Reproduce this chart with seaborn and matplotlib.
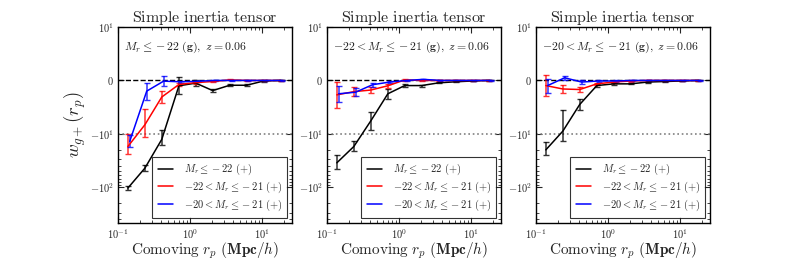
import numpy as np
import pandas as pd
import seaborn as sns
import matplotlib
matplotlib.use("Agg")
import matplotlib.pyplot as plt
from matplotlib.lines import Line2D
from matplotlib.ticker import FixedLocator, FixedFormatter, NullFormatter

# -----------------------------
# Data
# -----------------------------
rp = [0.137, 0.236, 0.405, 0.70, 1.2, 2.06, 3.55, 6.1, 10.5, 18.0]

samples = [r"$M_r \leq -22\ \mathbf{(+)}$",
           r"$-22 < M_r \leq -21\ \mathbf{(+)}$",
           r"$-20 < M_r \leq -21\ \mathbf{(+)}$"]
sample_colors = ["black", "red", "blue"]

panel_notes = [r"$M_r \leq -22\ \mathbf{(g)},\ z = 0.06$",
               r"$-22 < M_r \leq -21\ \mathbf{(g)},\ z = 0.06$",
               r"$-20 < M_r \leq -21\ \mathbf{(g)},\ z = 0.06$"]

# panel 1: M_r <= -22 (g)
w1_black = [-104, -44, -12.7, -1.0, -0.5, -1.9, -0.9, -0.9, -0.1, 0.0]
e1_black = [10, 6, 3.5, 1.6, 0.5, 0.3, 0.2, 0.2, 0.1, 0.05]
w1_red = [-17.3, -8.3, -3.1, -0.76, -0.4, -0.2, 0.1, 0.0, 0.0, 0.0]
e1_red = [7, 3, 1.2, 0.3, 0.2, 0.1, 0.1, 0.05, 0.05, 0.05]
w1_blue = [-13.9, -2.0, -0.13, -0.25, -0.15, 0.0, 0.0, 0.0, 0.0, 0.0]
e1_blue = [3.5, 1.6, 0.9, 0.2, 0.1, 0.1, 0.05, 0.05, 0.05, 0.05]

# panel 2: -22 < M_r <= -21 (g)
w2_black = [-35, -17.3, -7.6, -2.5, -0.96, -0.96, -0.45, -0.25, -0.1, 0.0]
e2_black = [10, 3.5, 1.6, 0.9, 0.3, 0.2, 0.1, 0.1, 0.05, 0.05]
w2_red = [-2.7, -2.1, -1.8, -1.0, 0.1, 0.0, 0.0, 0.0, 0.0, 0.0]
e2_red = [2.4, 0.8, 0.5, 0.4, 0.2, 0.1, 0.05, 0.05, 0.05, 0.05]
w2_blue = [-2.5, -2.2, -0.8, -0.3, 0.0, 0.2, 0.0, 0.0, 0.0, 0.0]
e2_blue = [1.5, 0.7, 0.4, 0.2, 0.1, 0.1, 0.05, 0.05, 0.05, 0.05]

# panel 3: -20 < M_r <= -21 (g)
w3_black = [-20, -9.5, -4.5, -0.96, -0.64, -0.64, -0.3, -0.2, -0.1, 0.0]
e3_black = [5.5, 4, 1.1, 0.3, 0.2, 0.1, 0.1, 0.05, 0.05, 0.05]
w3_red = [-0.96, -1.6, -1.7, -0.64, -0.3, -0.1, 0.0, 0.0, 0.0, 0.0]
e3_red = [1.9, 0.7, 0.4, 0.2, 0.1, 0.1, 0.05, 0.05, 0.05, 0.05]
w3_blue = [-0.96, 0.5, -0.3, -0.1, -0.1, 0.0, 0.0, 0.0, 0.0, 0.0]
e3_blue = [1.3, 0.4, 0.3, 0.1, 0.1, 0.05, 0.05, 0.05, 0.05, 0.05]

panels = [
    [(w1_black, e1_black), (w1_red, e1_red), (w1_blue, e1_blue)],
    [(w2_black, e2_black), (w2_red, e2_red), (w2_blue, e2_blue)],
    [(w3_black, e3_black), (w3_red, e3_red), (w3_blue, e3_blue)],
]

# -----------------------------
# Style
# -----------------------------
sns.set_style("ticks", {"xtick.direction": "in", "ytick.direction": "in"})
plt.rcParams["font.family"] = ["DejaVu Serif"]
plt.rcParams["mathtext.fontset"] = "cm"
plt.rcParams["axes.linewidth"] = 1.0
plt.rcParams["axes.edgecolor"] = "black"
plt.rcParams["xtick.top"] = True
plt.rcParams["ytick.right"] = True

fig = plt.figure(figsize=(7.89, 2.63), dpi=100)
lefts = [0.1496, 0.4144, 0.6793]
x_shift = [1.0, 1.0, 1.06]  # small horizontal offset used for the blue sample

for p, (left, series) in enumerate(zip(lefts, panels)):
    ax = fig.add_axes([left, 0.152, 0.2205, 0.745])

    rows = []
    for s, (w, e) in enumerate(series):
        for x, y in zip(rp, w):
            rows.append({"rp": x * x_shift[s], "w": y, "sample": samples[s]})
    df = pd.DataFrame(rows)

    ax.set_xscale("log")
    ax.set_yscale("symlog", linthresh=10, linscale=0.9, subs=[2, 3, 4, 5, 6, 7, 8, 9])

    ax.axhline(0, color="black", ls="--", lw=1, zorder=1)
    ax.axhline(-10, color="gray", ls=":", lw=1.2, zorder=1)

    sns.lineplot(data=df, x="rp", y="w", hue="sample", palette=sample_colors,
                 hue_order=samples, estimator=None, sort=False, legend=False,
                 lw=1.1, ax=ax, zorder=3)

    for s, (w, e) in enumerate(series):
        ax.errorbar([x * x_shift[s] for x in rp], w, yerr=e, fmt="none",
                    ecolor=sample_colors[s], elinewidth=1.1, capsize=2,
                    capthick=1.0, alpha=0.8, zorder=2)

    ax.set_xlim(0.1, 26)
    ax.set_ylim(-470, 10)

    ax.yaxis.set_major_locator(FixedLocator([10, 0, -10, -100]))
    ax.yaxis.set_major_formatter(FixedFormatter(
        [r"$10^{1}$", r"$0$", r"$-10^{1}$", r"$-10^{2}$"]))
    ax.yaxis.set_minor_formatter(NullFormatter())
    ax.xaxis.set_major_locator(FixedLocator([0.1, 1, 10]))
    ax.xaxis.set_major_formatter(FixedFormatter(
        [r"$10^{-1}$", r"$10^{0}$", r"$10^{1}$"]))
    ax.xaxis.set_minor_formatter(NullFormatter())
    ax.tick_params(which="major", length=4, width=0.8, labelsize=7.5,
                   direction="in", top=True, right=True, pad=3)
    ax.tick_params(which="minor", length=2, width=0.6, direction="in",
                   top=True, right=True)

    ax.set_title(r"$\mathrm{Simple\ inertia\ tensor}$", fontsize=11.5, pad=3)
    ax.set_xlabel(r"$\mathrm{Comoving}\ r_p\ \mathbf{(Mpc/}h\mathbf{)}$",
                  fontsize=11, labelpad=0)
    if p == 0:
        ax.set_ylabel(r"$w_{g+}(r_p)$", fontsize=13.5)
        ax.yaxis.set_label_coords(-0.175, 0.5)
    else:
        ax.set_ylabel("")

    ax.text(0.035, 0.895, panel_notes[p], transform=ax.transAxes,
            fontsize=8.5, ha="left", va="center", color="#222222")

    handles = [Line2D([], [], color=c, lw=1.1) for c in sample_colors]
    leg = ax.legend(handles, samples, loc="lower right", fontsize=7.5,
                    frameon=True, fancybox=False, handlelength=1.5,
                    handletextpad=1.0, borderaxespad=0.45, labelspacing=0.25,
                    borderpad=0.5)
    leg.get_frame().set_edgecolor("black")
    leg.get_frame().set_linewidth(0.8)

fig.savefig("out.png", dpi=100)
